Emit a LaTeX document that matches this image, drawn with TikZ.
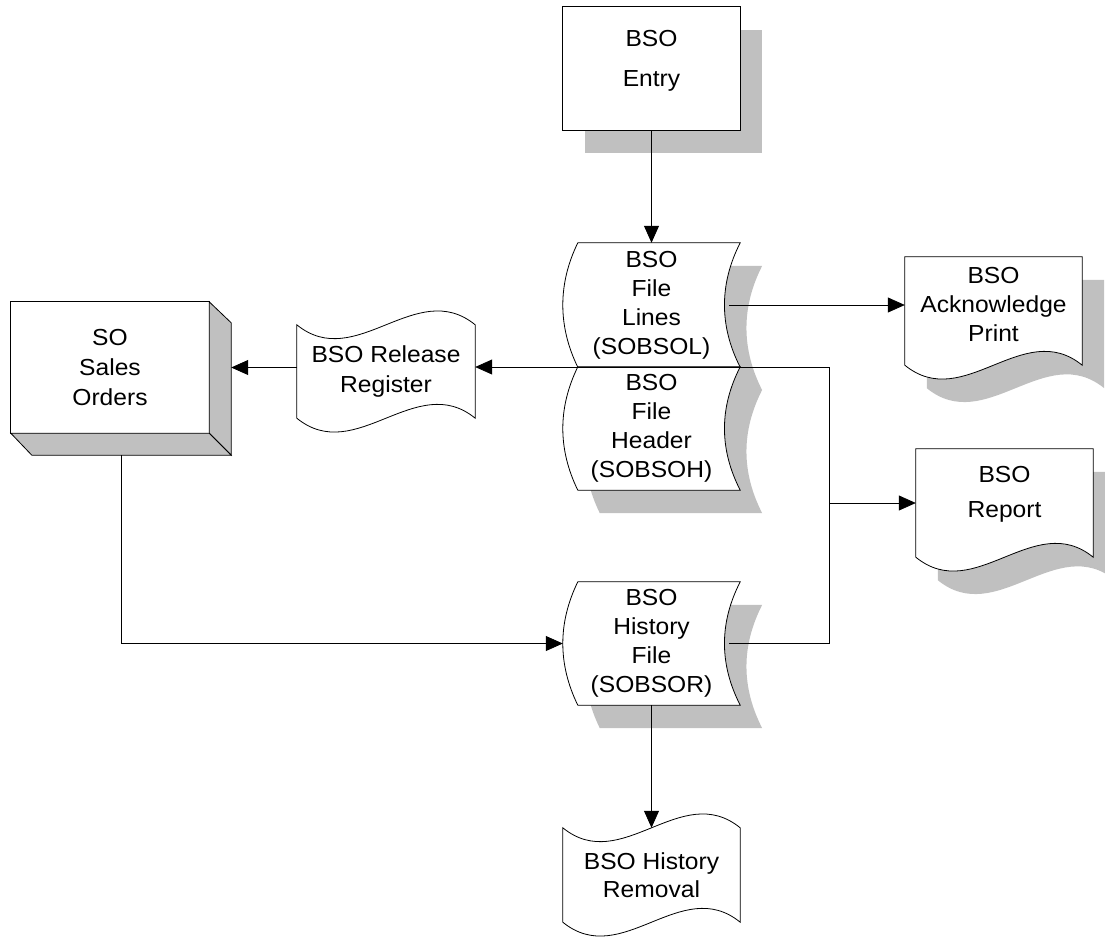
\documentclass[tikz,border=0pt]{standalone}
\usepackage{fontspec}
\setmainfont{Liberation Sans}[FakeStretch=1.06]
\usetikzlibrary{arrows.meta}

\pgfdeclarelayer{shadow}
\pgfdeclarelayer{outline}
\pgfsetlayers{shadow,outline,main}

\definecolor{shade}{HTML}{C0C0C0}

% outline paths built on a node's anchors
\newcommand\storedshape[1]{([xshift=15pt]#1.north west) -- (#1.north east)
  .. controls +(-21,41) and +(-21,-41) .. (#1.south east)
  -- ([xshift=15pt]#1.south west)
  .. controls +(-20,-41) and +(-20,41) .. ([xshift=15pt]#1.north west) -- cycle}
\newcommand\tapeshape[1]{(#1.north west)
  .. controls +(59,48) and +(-59,-48) .. (#1.north east) -- (#1.south east)
  .. controls +(-59,-48) and +(59,48) .. (#1.south west) -- cycle}
\newcommand\docshape[1]{(#1.north west) -- (#1.north east) -- (#1.south east)
  .. controls +(-59,-48) and +(59,48) .. (#1.south west) -- cycle}
\newcommand\boxshape[1]{(#1.north west) rectangle (#1.south east)}

\tikzset{
  txt/.style={font=\fontsize{23.2}{29}\selectfont, align=center},
  shapenode/.style={txt, inner sep=0pt, minimum width=177pt},
  flow/.style={-{Triangle[length=17pt,width=15pt]}, line width=0.8pt},
  outl/.style={draw=black, fill=white, line width=0.8pt},
  side/.style={draw=black, fill=shade, line width=0.8pt},
  shadowfill/.style={fill=shade, draw=none},
}

\begin{document}
\begin{tikzpicture}[x=1pt, y=-1pt]
\useasboundingbox (0,0) rectangle (1105,938);

% ---------- nodes ----------
\node[shapenode, minimum height=123pt,
      label={[txt, font=\fontsize{23.2}{40}\selectfont, yshift=8pt]center:BSO\\Entry}]
  (entry) at (651.5,68.5) {};
\node[shapenode, minimum height=124pt] (lines) at (651.5,305) {BSO\\File\\Lines\\(SOBSOL)};
\node[shapenode, minimum height=123pt] (header) at (651.5,428.5) {BSO\\File\\Header\\(SOBSOH)};
\node[shapenode, minimum height=123pt] (hist) at (651.5,643.5) {BSO\\History\\File\\(SOBSOR)};
\node[shapenode, minimum height=94pt, font=\fontsize{23.2}{28}\selectfont] (rem) at (651.5,875) {BSO History\\Removal};
\node[shapenode, minimum width=178pt, minimum height=93pt, font=\fontsize{23.2}{30}\selectfont] (reg) at (386,371.5) {BSO Release\\Register};
\node[shapenode, minimum width=198pt, minimum height=131pt, font=\fontsize{23.2}{30}\selectfont] (so) at (110,367.5) {SO\\Sales\\Orders};
\node[shapenode, minimum height=108pt,
      label={[txt, yshift=7pt]center:BSO\\Acknowledge\\Print}]
  (ack) at (993.5,311) {};
\node[shapenode, minimum height=108pt,
      label={[txt, font=\fontsize{23.2}{35}\selectfont, yshift=8.5pt]center:BSO\\Report}]
  (rep) at (1004.5,503) {};

% ---------- drop shadows ----------
\begin{pgfonlayer}{shadow}
  \begin{scope}[transform canvas={shift={(22pt,-23pt)}}]
    \fill[shadowfill] \boxshape{entry};
    \fill[shadowfill] \storedshape{lines};
    \fill[shadowfill] \storedshape{header};
    \fill[shadowfill] \storedshape{hist};
    \fill[shadowfill] \docshape{ack};
    \fill[shadowfill] \docshape{rep};
  \end{scope}
\end{pgfonlayer}

% ---------- outlines ----------
\begin{pgfonlayer}{outline}
  \path[outl] \boxshape{entry};
  \path[outl] \storedshape{lines};
  \path[outl] \storedshape{header};
  \path[outl] \storedshape{hist};
  \path[outl] \tapeshape{rem};
  \path[outl] \tapeshape{reg};
  \path[outl] \docshape{ack};
  \path[outl] \docshape{rep};
  % three-dimensional block
  \path[outl] \boxshape{so};
  \path[side] (so.north east) -- ([shift={(22,21)}]so.north east)
    -- ([shift={(22,22)}]so.south east) -- (so.south east) -- cycle;
  \path[side] (so.south west) -- ([shift={(21,22)}]so.south west)
    -- ([shift={(22,22)}]so.south east) -- (so.south east) -- cycle;
\end{pgfonlayer}

% ---------- connectors ----------
\coordinate (bus) at (829,367);
\coordinate (soside) at ([xshift=22pt]so.east);
\coordinate (sobase) at ([shift={(11,22)}]so.south);

\draw[flow] (entry.south) -- (lines.north);
\draw[flow] ([xshift=-11pt]lines.east) -- (lines.east -| ack.west);
\draw[flow] ([xshift=-11pt]hist.east) -| (bus) -- (bus -| reg.east);
\draw[flow] (bus |- rep.west) -- (rep.west);
\draw[flow] (reg.west |- soside) -- (soside);
\draw[flow] (sobase) |- (hist.west);
\draw[flow] (hist.south) -- (rem.north);
\end{tikzpicture}
\end{document}
